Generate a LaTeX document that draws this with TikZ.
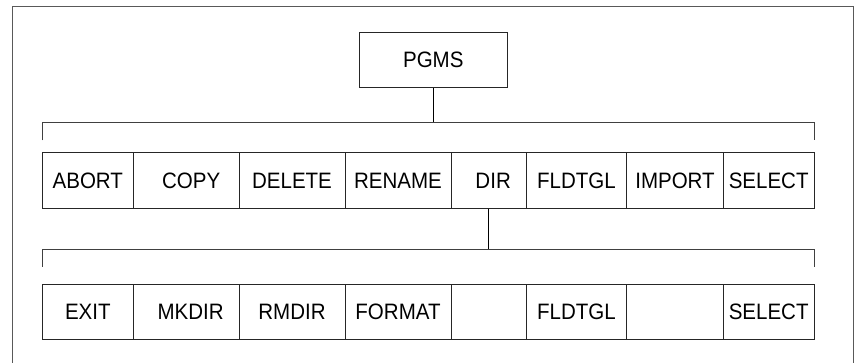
\documentclass[tikz,border=0pt]{standalone}
\usepackage{fontspec}
\setmainfont{Liberation Sans}
\newfontfamily\labfont[FakeStretch=0.92]{Liberation Sans}
\begin{document}
\begin{tikzpicture}[x=1pt,y=1pt,
  cell/.style={draw=black!85, line width=0.8pt, inner sep=0pt, minimum height=55.6pt,
    font=\labfont\fontsize{22.3}{26}\selectfont},
  topbox/.style={draw=black!85, line width=0.8pt, inner sep=0pt, minimum width=148.7pt, minimum height=55pt,
    font=\labfont\fontsize{22.3}{26}\selectfont},
  bracket/.style={draw=black!75, line width=0.8pt},
  conn/.style={draw=black, line width=0.8pt},
  frame/.style={draw=black!65, line width=1.6pt}]
\useasboundingbox (0,0) rectangle (855,363);
% outer frame (bottom edge lies outside the picture)
\draw[frame] (12.5,-5) -- (12.5,356.5) -- (853.5,356.5) -- (853.5,-5);
% top box
\node[topbox] (pgms) at (433.3,302.8) {PGMS};
% bracket 1
\coordinate (b1l) at (42.3,222.5);
\coordinate (b1r) at (814,222.5);
\coordinate (b1t) at (433.5,240.5);
\draw[bracket] (b1l) -- (b1l |- b1t) -- (b1r |- b1t) -- (b1r);
\draw[conn] (pgms.south) -- (pgms.south |- b1t);
% row 1
\node[cell, minimum width=91pt]    (a1) at (87.8,182.5)  {ABORT};
\node[cell, minimum width=105.7pt] (a2) at (186.15,182.5) {\hspace{10pt}COPY};
\node[cell, minimum width=106pt]   (a3) at (292,182.5)   {DELETE};
\node[cell, minimum width=106pt]   (a4) at (398,182.5)   {RENAME};
\node[cell, minimum width=75.3pt]  (a5) at (488.65,182.5) {\hspace{9pt}DIR};
\node[cell, minimum width=100.4pt] (a6) at (576.5,182.5) {FLDTGL};
\node[cell, minimum width=96.6pt]  (a7) at (675,182.5)   {IMPORT};
\node[cell, minimum width=90.7pt]  (a8) at (768.65,182.5) {SELECT};
% bracket 2
\coordinate (b2l) at (42.3,96.3);
\coordinate (b2r) at (814,96.3);
\coordinate (b2t) at (488.3,113.7);
\draw[bracket] (b2l) -- (b2l |- b2t) -- (b2r |- b2t) -- (b2r);
\draw[conn] (a5.south) -- (a5.south |- b2t);
% row 2
\node[cell, minimum width=91pt]    (c1) at (87.8,51.2)  {EXIT};
\node[cell, minimum width=105.7pt] (c2) at (186.15,51.2) {\hspace{9pt}MKDIR};
\node[cell, minimum width=106pt]   (c3) at (292,51.2)   {RMDIR};
\node[cell, minimum width=106pt]   (c4) at (398,51.2)   {FORMAT};
\node[cell, minimum width=75.3pt]  (c5) at (488.65,51.2) {};
\node[cell, minimum width=100.4pt] (c6) at (576.5,51.2) {FLDTGL};
\node[cell, minimum width=96.6pt]  (c7) at (675,51.2)   {};
\node[cell, minimum width=90.7pt]  (c8) at (768.65,51.2) {SELECT};
\end{tikzpicture}
\end{document}
